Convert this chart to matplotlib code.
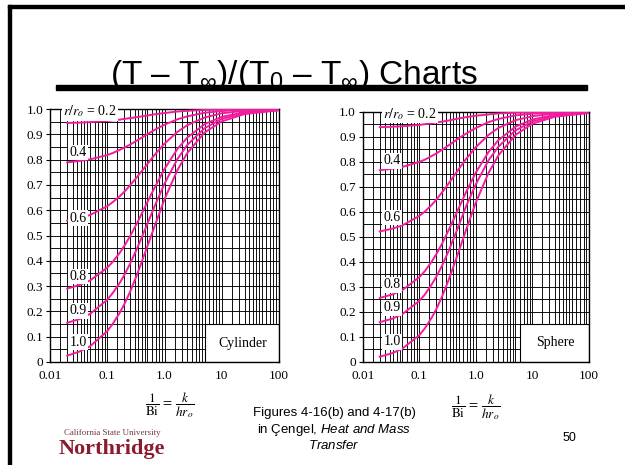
import matplotlib
matplotlib.use('Agg')
import matplotlib.pyplot as plt
from matplotlib.ticker import LogLocator, MultipleLocator, NullFormatter
from matplotlib.patches import Rectangle

plt.rcParams['mathtext.fontset'] = 'custom'
plt.rcParams['mathtext.rm'] = 'Liberation Sans'
plt.rcParams['mathtext.it'] = 'Liberation Sans:italic'

inv_bi = [0.02, 0.0333, 0.05, 0.1, 0.125, 0.1667, 0.2, 0.25, 0.3333,
          0.5, 0.6667, 1.0, 1.667, 2.5, 5.0, 10.0, 25.0, 100.0]
radius = ['0.2', '0.4', '0.6', '0.8', '0.9', '1.0']

# cylinder, one list per r/ro
cyl_02 = [0.945, 0.946, 0.948, 0.953, 0.955, 0.958, 0.961, 0.964, 0.968, 0.974, 0.979, 0.984, 0.990, 0.993, 0.996, 0.998, 0.999, 1.000]
cyl_04 = [0.789, 0.795, 0.801, 0.818, 0.826, 0.839, 0.848, 0.859, 0.876, 0.900, 0.917, 0.938, 0.959, 0.971, 0.985, 0.992, 0.997, 0.999]
cyl_06 = [0.559, 0.569, 0.581, 0.616, 0.632, 0.656, 0.674, 0.698, 0.732, 0.782, 0.818, 0.863, 0.909, 0.936, 0.966, 0.983, 0.993, 0.998]
cyl_08 = [0.290, 0.305, 0.322, 0.373, 0.396, 0.433, 0.460, 0.497, 0.550, 0.631, 0.688, 0.763, 0.841, 0.887, 0.940, 0.969, 0.987, 0.997]
cyl_09 = [0.155, 0.170, 0.190, 0.246, 0.273, 0.314, 0.345, 0.388, 0.450, 0.545, 0.614, 0.705, 0.801, 0.858, 0.924, 0.961, 0.984, 0.996]
cyl_10 = [0.025, 0.042, 0.062, 0.122, 0.151, 0.196, 0.230, 0.277, 0.347, 0.456, 0.535, 0.643, 0.757, 0.826, 0.907, 0.951, 0.980, 0.995]

# sphere
sph_02 = [0.938, 0.940, 0.942, 0.947, 0.950, 0.954, 0.957, 0.960, 0.965, 0.973, 0.978, 0.984, 0.989, 0.993, 0.996, 0.998, 0.999, 1.000]
sph_04 = [0.766, 0.772, 0.779, 0.799, 0.808, 0.823, 0.833, 0.847, 0.866, 0.894, 0.912, 0.935, 0.958, 0.971, 0.985, 0.992, 0.997, 0.999]
sph_06 = [0.521, 0.532, 0.545, 0.583, 0.600, 0.628, 0.648, 0.676, 0.714, 0.771, 0.810, 0.858, 0.907, 0.935, 0.966, 0.982, 0.993, 0.998]
sph_08 = [0.255, 0.269, 0.286, 0.338, 0.362, 0.401, 0.430, 0.470, 0.528, 0.615, 0.677, 0.757, 0.838, 0.886, 0.940, 0.969, 0.987, 0.997]
sph_09 = [0.158, 0.172, 0.190, 0.243, 0.268, 0.310, 0.340, 0.382, 0.445, 0.545, 0.620, 0.710, 0.805, 0.860, 0.925, 0.961, 0.984, 0.996]
sph_10 = [0.020, 0.034, 0.052, 0.106, 0.133, 0.177, 0.210, 0.258, 0.329, 0.442, 0.525, 0.637, 0.754, 0.825, 0.907, 0.952, 0.980, 0.995]

x_ticks = [0.01, 0.1, 1, 10, 100]
x_ticklabels = ['0.01', '0.1', '1.0', '10', '100']
y_ticks = [0, 0.1, 0.2, 0.3, 0.4, 0.5, 0.6, 0.7, 0.8, 0.9, 1.0]
y_ticklabels = ['0', '0.1', '0.2', '0.3', '0.4', '0.5', '0.6', '0.7', '0.8', '0.9', '1.0']

W, H = 625, 465
PINK = '#f41c9e'
SERIF = 'Liberation Serif'
SANS = 'Liberation Sans'

fig = plt.figure(figsize=(6.25, 4.65), dpi=100)


def fx(x):
    return x / W


def fy(y):
    return 1 - y / H


def chart(rect, curves, lab_x, lab_y, top_x, box_x, name, name_x):
    ax = fig.add_axes(rect)
    ax.set_xscale('log')
    ax.set_xlim(0.01, 100)
    ax.set_ylim(0, 1.0)
    ax.xaxis.set_minor_locator(LogLocator(base=10, subs=[1, 1.5, 2, 2.5, 3, 3.5, 4, 4.5, 5, 6, 7, 8, 9],
                                          numticks=60))
    ax.xaxis.set_minor_formatter(NullFormatter())
    ax.yaxis.set_minor_locator(MultipleLocator(0.05))
    ax.set_xticks(x_ticks)
    ax.set_xticklabels(x_ticklabels)
    ax.set_yticks(y_ticks)
    ax.set_yticklabels(y_ticklabels)
    ax.set_axisbelow(True)
    ax.grid(which='both', color='black', lw=0.65)
    ax.tick_params(which='minor', length=0)
    ax.tick_params(axis='x', which='major', direction='in', length=2, pad=6, labelsize=9.5)
    ax.tick_params(axis='y', which='major', direction='out', length=3, pad=2, labelsize=9.5)
    for lab in ax.get_xticklabels() + ax.get_yticklabels():
        lab.set_family(SERIF)
    for s in ax.spines.values():
        s.set_linewidth(1.0)

    for vals in curves:
        ax.plot(inv_bi, vals, color=PINK, lw=1.4, zorder=3)

    ax.text(top_x, 0.99, r'$r/r_o$ = 0.2', family=SERIF, fontsize=10, va='center',
            ha='left', math_fontfamily='stix', zorder=5,
            bbox=dict(facecolor='white', edgecolor='none', pad=0.8))
    for r, y in zip(radius[1:], lab_y):
        ax.text(lab_x, y, r, family=SERIF, fontsize=10, va='center', ha='center',
                zorder=5, bbox=dict(facecolor='white', edgecolor='none', pad=0.8))

    ax.add_patch(Rectangle((box_x, 0), 100 - box_x, 0.15, facecolor='white',
                           edgecolor='black', lw=0.8, zorder=2))
    ax.text(name_x, 0.075, name, family=SERIF, fontsize=10, ha='center', va='center', zorder=5)
    return ax


chart([fx(50), fy(362), fx(229), 253 / H],
      [cyl_02, cyl_04, cyl_06, cyl_08, cyl_09, cyl_10],
      0.031, [0.827, 0.569, 0.337, 0.202, 0.079], 0.0168, 5.2, 'Cylinder', 23.5)
chart([fx(362.7), fy(361.7), fx(226.3), 250 / H],
      [sph_02, sph_04, sph_06, sph_08, sph_09, sph_10],
      0.033, [0.803, 0.576, 0.307, 0.215, 0.079], 0.0228, 6.0, 'Sphere', 25)

# slide frame and title
fig.add_artist(Rectangle((fx(7.5), 0), fx(3), fy(5), transform=fig.transFigure,
                         color='black'))
fig.add_artist(Rectangle((fx(7.5), fy(8)), 1, 3 / H, transform=fig.transFigure,
                         color='black'))
fig.add_artist(Rectangle((fx(56), fy(90)), fx(531), 5 / H, transform=fig.transFigure,
                         color='black'))
fig.text(fx(294), fy(84), r'(T – T$_\infty$)/(T$_0$ – T$_\infty$) Charts', ha='center',
         va='baseline', fontsize=24, family=SANS, math_fontfamily='custom')

# x axis captions
frac = r'$\dfrac{1}{\mathrm{Bi}}\,=\,\dfrac{k}{hr_o}$'
fig.text(fx(170), fy(405), frac, ha='center', va='center', fontsize=9.5, math_fontfamily='stix')
fig.text(fx(476), fy(407), frac, ha='center', va='center', fontsize=9.5, math_fontfamily='stix')

fig.text(fx(334), fy(413), 'Figures 4-16(b) and 4-17(b)', ha='center', va='center',
         fontsize=9.5, family=SANS)
fig.text(fx(334), fy(430), r'in Çengel, $Heat\ and\ Mass$', ha='center', va='center',
         fontsize=9.5, family=SANS, math_fontfamily='custom')
fig.text(fx(334), fy(445), r'$Transfer$', ha='center', va='center',
         fontsize=9.5, family=SANS, math_fontfamily='custom')
fig.text(fx(569), fy(438), '50', ha='center', va='center', fontsize=9, family=SANS)

# university logo
fig.text(fx(112), fy(433), 'California State University', ha='center', va='center',
         fontsize=6.4, family=SERIF, color='#6e3a44')
fig.text(fx(112), fy(449), 'Northridge', ha='center', va='center', fontsize=16,
         family=SERIF, weight='bold', color='#8b1c2e')

fig.savefig('out.png', dpi=100)
